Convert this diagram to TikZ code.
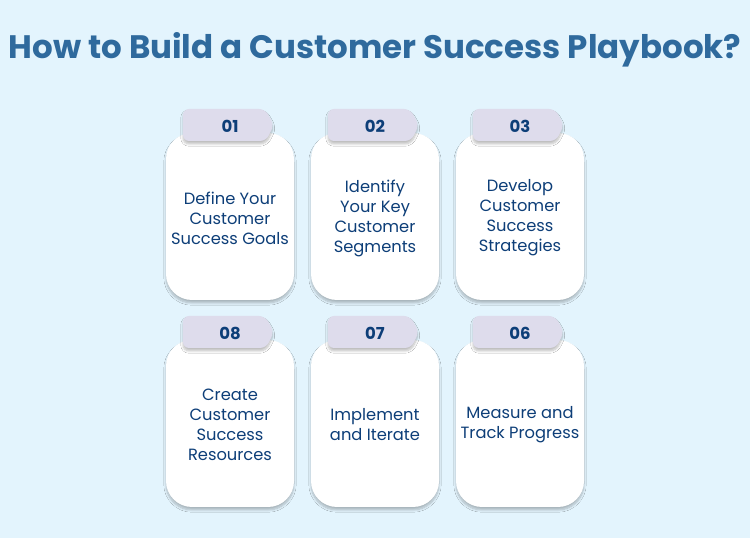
\documentclass[tikz,border=0pt]{standalone}
\usepackage{fontspec}
\setmainfont{Poppins}
\usetikzlibrary{shadows.blur}
\definecolor{bg}{HTML}{E3F4FD}
\definecolor{titlec}{HTML}{2F6A9D}
\definecolor{textc}{HTML}{0D3E78}
\definecolor{tabc}{HTML}{DEDCEC}
\tikzset{
  card/.style={fill=white, rounded corners=26pt, blur shadow={shadow xshift=0pt, shadow yshift=-3pt, shadow blur steps=8, shadow opacity=25}},
  tabshape/.style={fill=tabc, rounded corners=6pt, blur shadow={shadow xshift=0pt, shadow yshift=-3pt, shadow blur steps=6, shadow opacity=25}},
  numtxt/.style={font=\fontsize{16.5}{18}\selectfont\bfseries, text=textc, anchor=center},
  cardtxt/.style={font=\fontsize{16.3}{20}\selectfont, text=textc, align=center, anchor=center},
}
\newcommand{\cardblock}[6]{%
  % #1 left x, #2 card top y, #3 tab top y, #4 number, #5 text, #6 name
  \path[card] (#1,#2) rectangle ++(128,-167);
  \path[tabshape] (#1+17,#3) -- (#1+99,#3) -- (#1+108,#3-16) -- (#1+100,#3-32) -- (#1+17,#3-32) -- cycle;
  \node[numtxt] (n#6) at (#1+64,#3-17) {#4};
  \node[cardtxt] (t#6) at (#1+64,#2-85) {#5};
}
\begin{document}
\begin{tikzpicture}[x=1pt,y=1pt]
\fill[bg] (0,0) rectangle (750,538);
\useasboundingbox (0,0) rectangle (750,538);
\node[font=\fontsize{32.5}{36}\selectfont\bfseries, text=titlec] (title) at (375,488) {How to Build a Customer Success Playbook?};
% row 1
\cardblock{166}{405}{429}{01}{Define Your\\Customer\\Success Goals}{a}
\cardblock{311}{405}{429}{02}{Identify\\Your Key\\Customer\\Segments}{b}
\cardblock{456}{405}{429}{03}{Develop\\Customer\\Success\\Strategies}{c}
% row 2
\cardblock{166}{198}{222}{08}{Create\\Customer\\Success\\Resources}{d}
\cardblock{311}{198}{222}{07}{Implement\\and Iterate}{e}
\cardblock{456}{198}{222}{06}{Measure and\\Track Progress}{f}
\end{tikzpicture}
\end{document}
